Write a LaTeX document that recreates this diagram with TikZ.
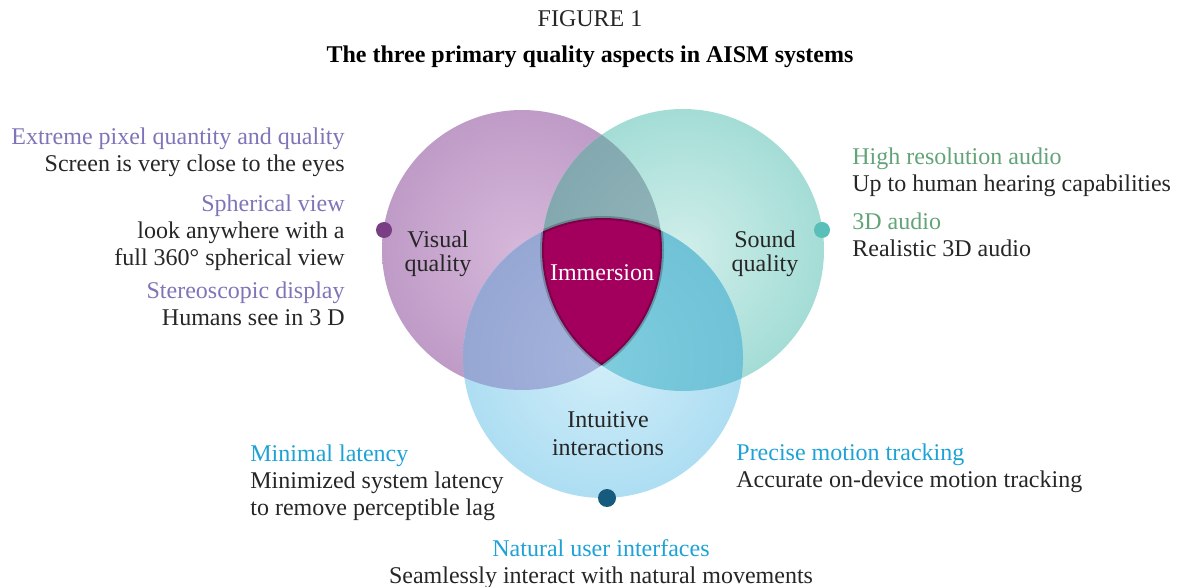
\documentclass[tikz,border=0pt]{standalone}
\usepackage{fontspec}
\setmainfont{Liberation Serif}
\usetikzlibrary{positioning}

\definecolor{ink}{RGB}{38,38,38}
\definecolor{vistxt}{RGB}{128,116,184}
\definecolor{sndtxt}{RGB}{98,163,120}
\definecolor{inttxt}{RGB}{30,162,214}
\definecolor{immfill}{RGB}{163,0,94}
\definecolor{visdot}{RGB}{122,62,132}
\definecolor{snddot}{RGB}{90,190,185}
\definecolor{intdot}{RGB}{22,90,125}
% circle colours, centre to rim
\definecolor{visin}{RGB}{214,184,218}
\definecolor{vismid}{RGB}{190,154,198}
\definecolor{visout}{RGB}{174,134,184}
\definecolor{visrim}{RGB}{158,118,170}
\definecolor{sndin}{RGB}{208,238,234}
\definecolor{sndmid}{RGB}{162,220,213}
\definecolor{sndout}{RGB}{132,205,198}
\definecolor{sndrim}{RGB}{114,194,188}
\definecolor{intin}{RGB}{210,238,249}
\definecolor{intmid}{RGB}{172,221,242}
\definecolor{intout}{RGB}{144,208,235}
\definecolor{intrim}{RGB}{126,198,229}
% overlaps
\definecolor{ptin}{RGB}{146,182,186}
\definecolor{ptout}{RGB}{116,154,164}
\definecolor{pbin}{RGB}{164,180,220}
\definecolor{pbout}{RGB}{138,154,204}
\definecolor{tbin}{RGB}{126,204,222}
\definecolor{tbout}{RGB}{98,184,208}

\pgfdeclareradialshading{visshade}{\pgfpoint{0bp}{0bp}}{color(0bp)=(visin); color(26bp)=(vismid); color(43bp)=(visout); color(50bp)=(visrim)}
\pgfdeclareradialshading{sndshade}{\pgfpoint{0bp}{0bp}}{color(0bp)=(sndin); color(26bp)=(sndmid); color(43bp)=(sndout); color(50bp)=(sndrim)}
\pgfdeclareradialshading{intshade}{\pgfpoint{0bp}{0bp}}{color(0bp)=(intin); color(26bp)=(intmid); color(43bp)=(intout); color(50bp)=(intrim)}
\pgfdeclareradialshading{ptshade}{\pgfpoint{0bp}{0bp}}{color(0bp)=(ptin); color(50bp)=(ptout)}
\pgfdeclareradialshading{pbshade}{\pgfpoint{0bp}{0bp}}{color(0bp)=(pbin); color(50bp)=(pbout)}
\pgfdeclareradialshading{tbshade}{\pgfpoint{0bp}{0bp}}{color(0bp)=(tbin); color(50bp)=(tbout)}

\tikzset{
    lbl/.style={font=\fontsize{12}{13.5}\selectfont, inner sep=0pt, text=ink},
    head/.style={lbl, text=#1},
    dot/.style={circle, inner sep=0pt, minimum size=8pt, fill=#1},
    rimshadow/.style={draw=black, draw opacity=0.22, line width=2pt},
}

\begin{document}
\begin{tikzpicture}[x=0.5pt, y=-0.5pt]
    \useasboundingbox (0,0) rectangle (1177,587);
    \coordinate (vc) at (522,250);
    \coordinate (sc) at (683,250);
    \coordinate (ic) at (603,358);

    % the three circles
    \shade[shading=visshade] (vc) circle[radius=70pt];
    \shade[shading=sndshade] (sc) circle[radius=70.5pt];
    \shade[shading=intshade] (ic) circle[radius=70pt];

    % overlaps
    \begin{scope}
        \clip (vc) circle[radius=70pt];
        \shade[shading=ptshade] (sc) circle[radius=70.5pt];
        \shade[shading=pbshade] (ic) circle[radius=70pt];
    \end{scope}
    \begin{scope}
        \clip (sc) circle[radius=70.5pt];
        \shade[shading=tbshade] (ic) circle[radius=70pt];
    \end{scope}
    \begin{scope}
        \clip (vc) circle[radius=70pt];
        \clip (sc) circle[radius=70.5pt];
        \fill[immfill] (ic) circle[radius=70pt];
        \draw[rimshadow] (ic) circle[radius=70pt];
    \end{scope}
    \begin{scope}
        \clip (vc) circle[radius=70pt];
        \clip (ic) circle[radius=70pt];
        \draw[rimshadow] (sc) circle[radius=70.5pt];
    \end{scope}
    \begin{scope}
        \clip (sc) circle[radius=70.5pt];
        \clip (ic) circle[radius=70pt];
        \draw[rimshadow] (vc) circle[radius=70pt];
    \end{scope}

    \node[dot=visdot] (vdot) at (384,230) {};
    \node[dot=snddot] (sdot) at (822,230) {};
    \node[dot=intdot, minimum size=9pt] (idot) at (607,498) {};

    % title
    \node[lbl, anchor=base] (fig) at (590,27) {FIGURE 1};
    \node[lbl, anchor=base, font=\fontsize{12}{13.5}\selectfont\bfseries, text=black] (title) at (590,63) {The three primary quality aspects in AISM systems};

    % circle labels
    \node[lbl, anchor=base, text=black!85] (vis1) at (438,248) {Visual};
    \node[lbl, anchor=base, text=black!85] (vis2) at (438,272) {quality};
    \node[lbl, anchor=base, text=black!85] (snd1) at (765,248) {Sound};
    \node[lbl, anchor=base, text=black!85] (snd2) at (765,272) {quality};
    \node[lbl, anchor=base, text=white] (imm) at (602,281) {Immersion};
    \node[lbl, anchor=base, text=black!85] (int1) at (608,428) {Intuitive};
    \node[lbl, anchor=base, text=black!85] (int2) at (608,455) {interactions};

    % visual quality
    \node[head=vistxt, anchor=base east] (pix1) at (345,145) {Extreme pixel quantity and quality};
    \node[lbl, anchor=base east] (pix2) at (345,172) {Screen is very close to the eyes};
    \node[head=vistxt, anchor=base east] (sph1) at (345,212) {Spherical view};
    \node[lbl, anchor=base east] (sph2) at (345,239) {look anywhere with a};
    \node[lbl, anchor=base east] (sph3) at (345,266) {full 360° spherical view};
    \node[head=vistxt, anchor=base east] (ste1) at (345,299) {Stereoscopic display};
    \node[lbl, anchor=base east] (ste2) at (345,326) {Humans see in 3 D};

    % sound quality
    \node[head=sndtxt, anchor=base west] (hra1) at (852,165) {High resolution audio};
    \node[lbl, anchor=base west] (hra2) at (852,192) {Up to human hearing capabilities};
    \node[head=sndtxt, anchor=base west] (aud1) at (852,230) {3D audio};
    \node[lbl, anchor=base west] (aud2) at (852,257) {Realistic 3D audio};

    % intuitive interactions
    \node[head=inttxt, anchor=base west] (lat1) at (250,461) {Minimal latency};
    \node[lbl, anchor=base west] (lat2) at (250,488) {Minimized system latency};
    \node[lbl, anchor=base west] (lat3) at (250,515) {to remove perceptible lag};
    \node[head=inttxt, anchor=base west] (mot1) at (736,460) {Precise motion tracking};
    \node[lbl, anchor=base west] (mot2) at (736,487) {Accurate on-device motion tracking};
    \node[head=inttxt, anchor=base] (nui1) at (601,556) {Natural user interfaces};
    \node[lbl, anchor=base] (nui2) at (601,583) {Seamlessly interact with natural movements};
\end{tikzpicture}
\end{document}
